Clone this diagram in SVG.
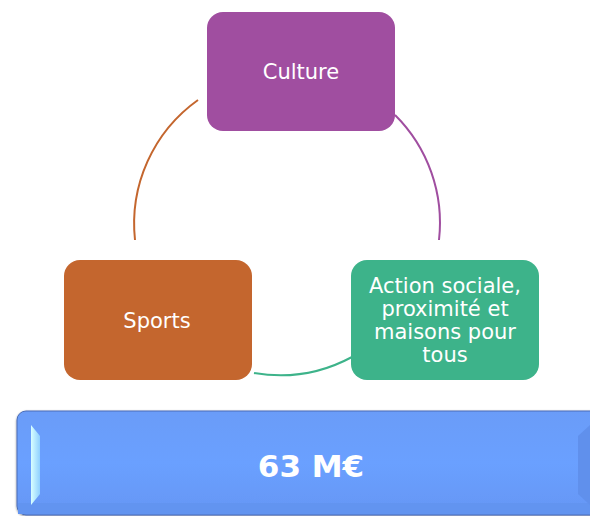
<svg xmlns="http://www.w3.org/2000/svg" width="590" height="516" viewBox="0 0 590 516">
<defs>
<style>
.lbl{font-family:"DejaVu Sans","Verdana",sans-serif;font-size:21px;fill:#ffffff;text-anchor:middle}
.big{font-family:"DejaVu Sans","Verdana",sans-serif;font-size:31px;font-weight:bold;fill:#ffffff;text-anchor:middle}
.arc{fill:none;stroke-width:2}
</style>
<linearGradient id="barg" x1="0" y1="0" x2="0" y2="1">
<stop offset="0" stop-color="#6a9cf8"/>
<stop offset="0.5" stop-color="#6aa0ff"/>
<stop offset="1" stop-color="#6596f4"/>
</linearGradient>
<linearGradient id="lbev" x1="0" y1="0" x2="1" y2="0">
<stop offset="0" stop-color="#d8ffff"/>
<stop offset="1" stop-color="#8fd0ff"/>
</linearGradient>
<filter id="sh" x="-5%" y="-20%" width="110%" height="140%">
<feDropShadow dx="0" dy="1" stdDeviation="1.2" flood-color="#000" flood-opacity="0.45"/>
</filter>
</defs>
<rect width="590" height="516" fill="#ffffff"/>
<g id="connectors">
<path class="arc" stroke="#c4662e" d="M198,100 A152,152 0 0 0 135,240"/>
<path class="arc" stroke="#a04ea0" d="M395,115 A152,152 0 0 1 439,240"/>
<path class="arc" stroke="#3db38a" d="M254,373 A152,152 0 0 0 352,357"/>
</g>
<g id="culture">
<rect x="207" y="12" width="188" height="119" rx="16" fill="#a04ea0"/>
<text class="lbl" x="301" y="79">Culture</text>
</g>
<g id="sports">
<rect x="64" y="260" width="188" height="120" rx="16" fill="#c4662e"/>
<text class="lbl" x="157" y="328">Sports</text>
</g>
<g id="action">
<rect x="351" y="260" width="188" height="120" rx="16" fill="#3db38a"/>
<text class="lbl" x="445" y="293">Action sociale,</text>
<text class="lbl" x="445" y="316">proximité et</text>
<text class="lbl" x="445" y="339">maisons pour</text>
<text class="lbl" x="445" y="362">tous</text>
</g>
<g id="total">
<rect x="17" y="411" width="600" height="104" rx="9" fill="url(#barg)" stroke="#4a6db8" stroke-width="1" filter="url(#sh)"/>
<rect x="18" y="503" width="600" height="11" fill="#6294f0"/>
<polygon points="31,425 40,436 40,494 31,505" fill="url(#lbev)"/>
<polygon points="590,425 578,436 578,494 590,505" fill="#6090ec"/>
<text class="big" x="311" y="477">63 M€</text>
</g>
</svg>
